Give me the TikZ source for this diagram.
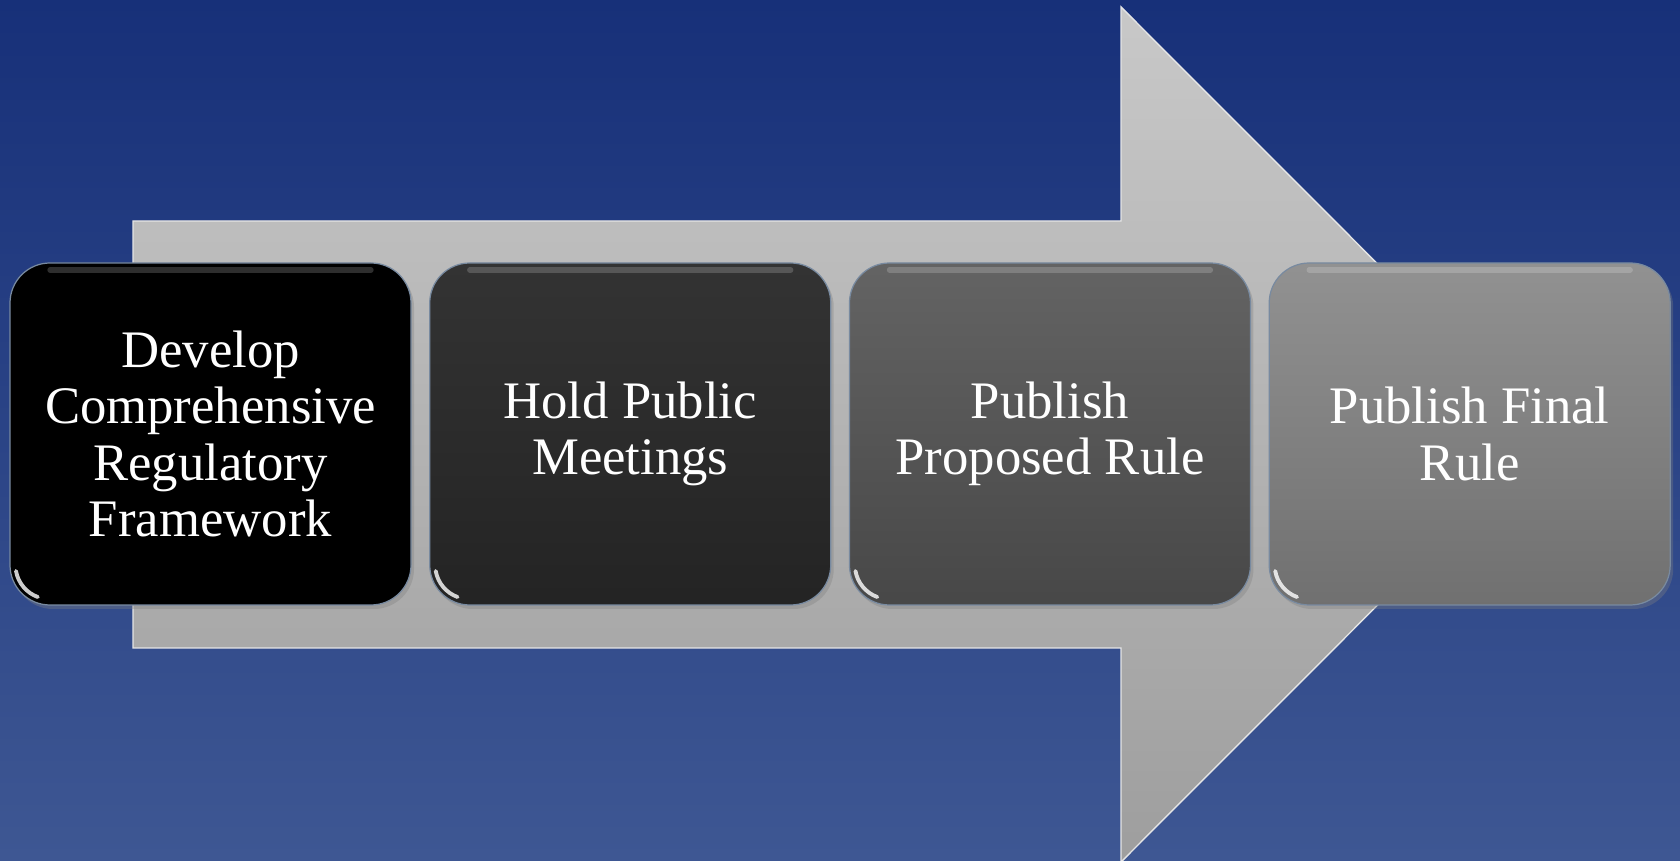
\documentclass[tikz,border=0pt]{standalone}
\usepackage{fontspec}
\setmainfont{Liberation Serif}
\usetikzlibrary{positioning,shadows}

\definecolor{bgtop}{RGB}{23,48,121}
\definecolor{bgbot}{RGB}{62,87,147}
\definecolor{arrtop}{RGB}{200,200,200}
\definecolor{arrbot}{RGB}{158,158,158}
\definecolor{rim}{RGB}{120,138,160}

\tikzset{
  gloss/.style={path picture={
    \draw[white, opacity=.18, line width=3pt, line cap=round]
      ([xshift=0.8cm, yshift=-0.14cm]path picture bounding box.north west)
      -- ([xshift=-0.8cm, yshift=-0.14cm]path picture bounding box.north east);
    \draw[white, opacity=.8, line width=2.2pt, line cap=round]
      ([shift={(0.12cm,0.68cm)}]path picture bounding box.south west) arc (190:250:0.68cm);
  }}
}

\begin{document}
\begin{tikzpicture}[node distance=0.35cm,
    stage/.style={rounded corners=0.8cm, minimum width=8.02cm, minimum height=6.84cm,
      align=center, text=white, font=\fontsize{30}{32}\selectfont, gloss,
      draw=rim, line width=.7pt, drop shadow={opacity=.35, shadow xshift=.06cm, shadow yshift=-.08cm}}]
  \useasboundingbox (0,0) rectangle (33.6,17.2);
  \shade[top color=bgtop, bottom color=bgbot] (0,0) rectangle (33.6,17.2);
  \begin{scope}
    \clip (0,0) rectangle (33.6,17.2);
    \shade[top color=arrtop, bottom color=arrbot, draw=white!80!gray, line width=.8pt]
      (2.66,4.24) -- (2.66,12.78) -- (22.42,12.78) -- (22.42,17.06)
      -- (30.96,8.51) -- (22.42,-0.04) -- (22.42,4.24) -- cycle;
  \end{scope}
  \node[stage, top color=black, bottom color=black] (dev) at (4.21,8.52)
    {Develop\\Comprehensive\\Regulatory\\Framework};
  \node[stage, top color=black!80, bottom color=black!86] (hold) [right=of dev]
    {Hold Public\\Meetings};
  \node[stage, top color=black!61, bottom color=black!72] (prop) [right=of hold]
    {Publish\\Proposed Rule};
  \node[stage, top color=black!43, bottom color=black!56] (final) [right=of prop]
    {Publish Final\\Rule};
\end{tikzpicture}
\end{document}
